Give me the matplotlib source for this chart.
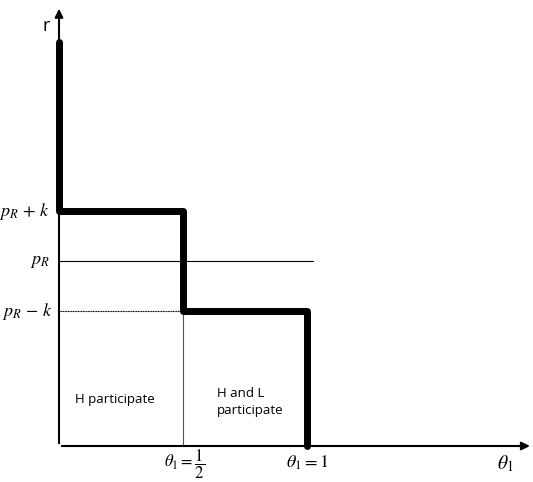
import matplotlib
matplotlib.use('Agg')
from matplotlib import pyplot as plt

plt.rcParams['mathtext.fontset'] = 'stix'
plt.rcParams['font.family'] = ['Open Sans', 'DejaVu Sans']

# step boundary (theta_1, r)
pR, k = 3.7, 1.0
r_top = 8.08
step_x = [0.0, 0.0, 0.5, 0.5, 1.0, 1.0]
step_y = [r_top, pR + k, pR + k, pR - k, pR - k, 0.0]

fig = plt.figure(figsize=(5.33, 4.82), dpi=100)
ax = fig.add_axes([0, 0, 1, 1])
ax.set_xlim(-59 / 248, 474 / 248)
ax.set_ylim(-36 / 50, 446 / 50)
ax.axis('off')

# axes with arrows
ax.annotate('', xy=(1.91, 0), xytext=(0, 0),
            arrowprops=dict(arrowstyle='-|>', color='black', lw=1.5, mutation_scale=12))
ax.annotate('', xy=(0, 8.8), xytext=(0, 0),
            arrowprops=dict(arrowstyle='-|>', color='black', lw=1.5, mutation_scale=12))

# thin guide lines
ax.plot([0, 1.025], [pR, pR], color='black', lw=0.8)
ax.plot([0, 0.5], [pR - k, pR - k], color='black', lw=0.8, ls=(0, (1, 0.5)))
ax.plot([0.5, 0.5], [0, pR - k], color='#555555', lw=0.8)

# thick step
ax.plot(step_x, step_y, color='black', lw=5, solid_capstyle='round', solid_joinstyle='round')

# labels
ax.text(-0.036, pR + k, r'$p_R\,+\,k$', ha='right', va='center', fontsize=13)
ax.text(-0.036, pR, '$p_R$', ha='right', va='center', fontsize=13)
ax.text(-0.024, pR - k, r'$p_R\,-\,k$', ha='right', va='center', fontsize=13)
ax.text(-0.052, 8.4, 'r', ha='center', va='center', fontsize=13)
ax.text(0.508, -0.36, r'$\theta_1=\dfrac{1}{2}$', ha='center', va='center', fontsize=12)
ax.text(1.0, -0.34, r'$\theta_1=1$', ha='center', va='center', fontsize=13)
ax.text(1.8, -0.36, r'$\theta_1$', ha='center', va='center', fontsize=14)
ax.text(0.226, 0.94, 'H participate', ha='center', va='center', fontsize=9.5)
ax.text(0.637, 0.88, 'H and L\nparticipate', ha='left', va='center', fontsize=9.5, linespacing=1.35)

fig.savefig('out.png', dpi=100)
